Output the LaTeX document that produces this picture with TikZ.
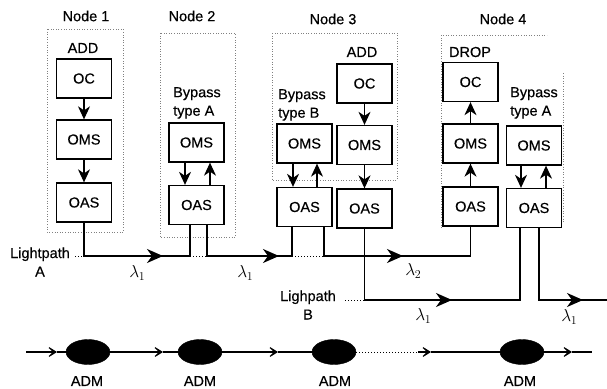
\documentclass[tikz,border=0pt]{standalone}
\usepackage{fontspec}
\setmainfont{Liberation Sans}[FakeBold=0.35]
\usetikzlibrary{arrows.meta,shapes.geometric}
\newcommand{\lamsub}[1]{$\lambda\kern-0.3pt\raisebox{-3pt}{\fontsize{13}{13}\selectfont$#1$}$}
\begin{document}
\begin{tikzpicture}[x=1pt,y=-1pt,
  box/.style={draw,line width=1.3pt,minimum width=55pt,minimum height=39pt,inner sep=0pt,font=\fontsize{14.5}{16}\selectfont},
  txt/.style={inner sep=0pt,font=\fontsize{14.5}{18.5}\selectfont},
  lam/.style={inner sep=0pt,font=\fontsize{17}{17}\selectfont},
  inarr/.style={line width=1.2pt,-{Stealth[length=13pt,width=12pt,inset=4pt]}},
  lp/.style={line width=1.7pt},
  mid/.style={line width=1.7pt,-{Stealth[length=16pt,width=14pt,inset=5pt]}},
  bot/.style={line width=1.7pt,-{Stealth[length=12pt,width=15pt,inset=8pt]}},
  dot/.style={gray,dotted,line width=0.6pt},
  dotk/.style={black,dotted,line width=1pt},
  adm/.style={ellipse,fill=black,draw=black,minimum width=44pt,minimum height=25pt,inner sep=0pt}
]
\useasboundingbox (0,0) rectangle (607,388);

% node frames
\draw[dot] (47,29) rectangle (123,232);
\draw[dot] (160,33) rectangle (235,237);
\draw[dot] (272,33) rectangle (397,180);
\draw[dot] (441,228) -- (441,35) -- (547,35);
\draw[dot] (563,73) -- (563,222);

% titles
\node[txt] (n1) at (86,16) {Node 1};
\node[txt] (n2) at (192,16) {Node 2};
\node[txt] (n3) at (333,19) {Node 3};
\node[txt] (n4) at (503,19) {Node 4};

\node[txt] (add1) at (83,48) {ADD};
\node[txt] (add3) at (362,52) {ADD};
\node[txt] (drop4) at (470,52) {DROP};

\node[txt,align=left,anchor=north west] (bp2) at (173,87) {Bypass\\type A};
\node[txt,align=left,anchor=north west] (bp3) at (278,89) {Bypass\\type B};
\node[txt,align=left,anchor=north west] (bp4) at (510,87) {Bypass\\type A};

% boxes
\node[box] (OC1) at (84,78.5) {OC};
\node[box] (OMS1) at (84,139.5) {OMS};
\node[box] (OAS1) at (84,202.5) {OAS};

\node[box] (OMS2) at (196.5,142.5) {OMS};
\node[box] (OAS2) at (196.5,205) {OAS};

\node[box] (OC3) at (364.5,83.5) {OC};
\node[box] (OMSb3) at (304.5,143.5) {OMS};
\node[box] (OMS3) at (364.5,145) {OMS};
\node[box] (OASb3) at (304.5,207) {OAS};
\node[box] (OAS3) at (364.5,208.5) {OAS};

\node[box] (OC4) at (470.5,82) {OC};
\node[box] (OMS4) at (470.5,143.5) {OMS};
\node[box] (OMSa4) at (534,145.5) {OMS};
\node[box] (OAS4) at (470.5,206.5) {OAS};
\node[box] (OASa4) at (534,208) {OAS};

% internal arrows
\draw[inarr] (OC1.south) -- (OMS1.north);
\draw[inarr] (OMS1.south) -- (OAS1.north);

\draw[inarr] ([xshift=-11.5pt]OMS2.south) -- ([xshift=-11.5pt]OAS2.north);
\draw[inarr] ([xshift=13.5pt]OAS2.north) -- ([xshift=13.5pt]OMS2.south);

\draw[inarr] ([xshift=-11.5pt]OMSb3.south) -- ([xshift=-11.5pt]OASb3.north);
\draw[inarr] ([xshift=12.5pt]OASb3.north) -- ([xshift=12.5pt]OMSb3.south);
\draw[inarr] (OC3.south) -- (OMS3.north);
\draw[inarr] (OMS3.south) -- (OAS3.north);

\draw[inarr] (OAS4.north) -- (OMS4.south);
\draw[inarr] (OMS4.north) -- (OC4.south);
\draw[inarr] ([xshift=-13pt]OMSa4.south) -- ([xshift=-13pt]OASa4.north);
\draw[inarr] ([xshift=12pt]OASa4.north) -- ([xshift=12pt]OMSa4.south);

% lightpath A
\coordinate (As) at (75,256);
\coordinate (A0) at (84,256);
\coordinate (A1) at (190,256);
\coordinate (A2) at (207,256);
\coordinate (A3) at (292,256);
\coordinate (A4) at (324,256);
\coordinate (A5) at (470.5,256);
\coordinate (tA1) at (163,256);
\coordinate (tA2) at (279,256);
\coordinate (tA3) at (403,256);
\draw[lp] (OAS1.south) -- (A0) -- (A1) -- (A1 |- OAS2.south);
\draw[mid] (A0) -- (tA1);
\draw[lp] (A2 |- OAS2.south) -- (A2) -- (A3) -- (A3 |- OASb3.south);
\draw[mid] (A2) -- (tA2);
\draw[lp] (A4 |- OASb3.south) -- (A4) -- (A5) -- (OAS4.south);
\draw[mid] (A4) -- (tA3);
\draw[dotk] (As) -- (A0);
\draw[dotk] (A1) -- (A2);
\draw[dotk] (A3) -- (A4);

% lightpath B
\coordinate (Bs) at (345,300);
\coordinate (B0) at (364.5,300);
\coordinate (B1) at (520,300);
\coordinate (B2) at (539,300);
\coordinate (Bend) at (607,300);
\coordinate (tB1) at (452,300);
\coordinate (tB2) at (583,300);
\draw[lp] (OAS3.south) -- (B0) -- (B1) -- (B1 |- OASa4.south);
\draw[mid] (B0) -- (tB1);
\draw[lp] (B2 |- OASa4.south) -- (B2) -- (Bend);
\draw[mid] (B2) -- (tB2);
\draw[dotk] (Bs) -- (B0);

% path labels
\node[txt,align=center] (lpA) at (40,262) {Lightpath\\A};
\node[txt,align=center] (lpB) at (308,305) {Lighpath\\B};
\node[lam] (l1) at (137,273) {\lamsub{1}};
\node[lam] (l2) at (245,273) {\lamsub{1}};
\node[lam] (l3) at (413,271) {\lamsub{2}};
\node[lam] (l4) at (423,316) {\lamsub{1}};
\node[lam] (l5) at (569,317) {\lamsub{1}};

% ADM ring
\coordinate (L0) at (26,352);
\coordinate (Lend) at (592,352);
\node[adm] (D1) at (88,352) {};
\node[adm] (D2) at (200,352) {};
\node[adm] (D3) at (334,352) {};
\node[adm] (D4) at (522,352) {};
\coordinate (b1) at (57,352);
\coordinate (b2) at (163,352);
\coordinate (b3) at (278,352);
\coordinate (c1) at (418,352);
\coordinate (b4) at (431,352);
\coordinate (b5) at (572,352);
\draw[bot] (L0) -- (b1);
\draw[lp] (b1) -- (D1);
\draw[bot] (D1) -- (b2);
\draw[lp] (b2) -- (D2);
\draw[bot] (D2) -- (b3);
\draw[lp] (b3) -- (D3);
\draw[dotk] (D3) -- (c1);
\draw[bot] (c1) -- (b4);
\draw[lp] (b4) -- (D4);
\draw[bot] (D4) -- (b5);
\draw[lp] (b5) -- (Lend);

\node[txt] (m1) at (87,381) {ADM};
\node[txt] (m2) at (200,381) {ADM};
\node[txt] (m3) at (335,381) {ADM};
\node[txt] (m4) at (520,381) {ADM};
\end{tikzpicture}
\end{document}
